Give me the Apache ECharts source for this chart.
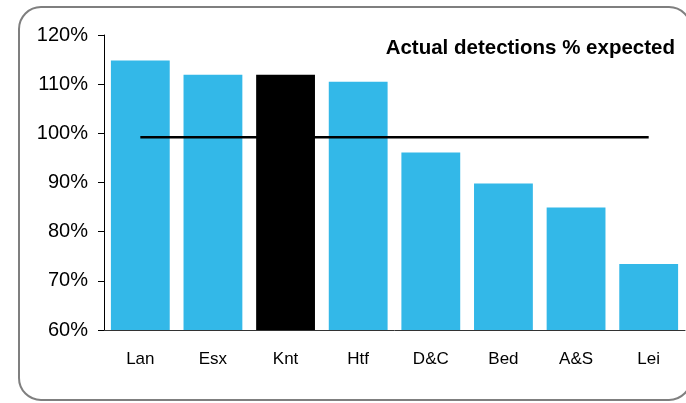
<!DOCTYPE html>
<html lang="en">
	<head>
		<meta charset="utf-8" />
		<title>Actual detections % expected</title>
		<style>
			html, body { margin: 0; padding: 0; background: #fff; }
			#chart { width: 686px; height: 403px; }
		</style>
	</head>
	<body>
		<div id="chart"></div>
		<script src="https://cdn.jsdelivr.net/npm/echarts@6/dist/echarts.min.js"></script>
		<script type="text/javascript">
			const categories = ['Lan', 'Esx', 'Knt', 'Htf', 'D&C', 'Bed', 'A&S', 'Lei'];
			const actualPct = [114.8, 111.9, 111.9, 110.5, 96.1, 89.8, 84.9, 73.4];
			const expectedPct = [99.2, 99.2, 99.2, 99.2, 99.2, 99.2, 99.2, 99.2];
			const yTicks = [60, 70, 80, 90, 100, 110, 120];
			const highlight = 'Knt';

			const chart = echarts.init(document.getElementById('chart'));
			chart.setOption({
				animation: false,
				textStyle: { fontFamily: 'Liberation Sans, Arial, sans-serif' },
				graphic: [
					{
						type: 'rect',
						shape: { x: 19, y: 7, width: 672, height: 393, r: 22 },
						style: { fill: 'none', stroke: '#7f7f7f', lineWidth: 2 },
						z: -1,
					},
				],
				title: {
					text: 'Actual detections % expected',
					right: 6,
					top: 33,
					textStyle: { fontSize: 20.5, fontWeight: 'bold', color: '#000' },
				},
				grid: { left: 104, right: 1, top: 35, bottom: 73, containLabel: false },
				xAxis: {
					type: 'category',
					data: categories,
					axisLine: { lineStyle: { color: '#333', width: 1 } },
					axisTick: { show: false },
					axisLabel: { color: '#000', fontSize: 17, margin: 21 },
				},
				yAxis: {
					type: 'value',
					min: yTicks[0],
					max: yTicks[yTicks.length - 1],
					interval: 10,
					splitLine: { show: false },
					axisLine: { show: true, lineStyle: { color: '#000', width: 1 } },
					axisTick: { show: true, length: 6, lineStyle: { color: '#000' } },
					axisLabel: { color: '#000', fontSize: 20, margin: 16, formatter: '{value}%' },
				},
				series: [
					{
						type: 'bar',
						barWidth: '81%',
						data: actualPct.map((v, i) => ({
							value: v,
							itemStyle: { color: categories[i] === highlight ? '#000' : '#33b8e8' },
						})),
					},
					{
						type: 'line',
						data: expectedPct,
						symbol: 'none',
						lineStyle: { color: '#000', width: 2.5 },
						z: 3,
					},
				],
			});
		</script>
	</body>
</html>
